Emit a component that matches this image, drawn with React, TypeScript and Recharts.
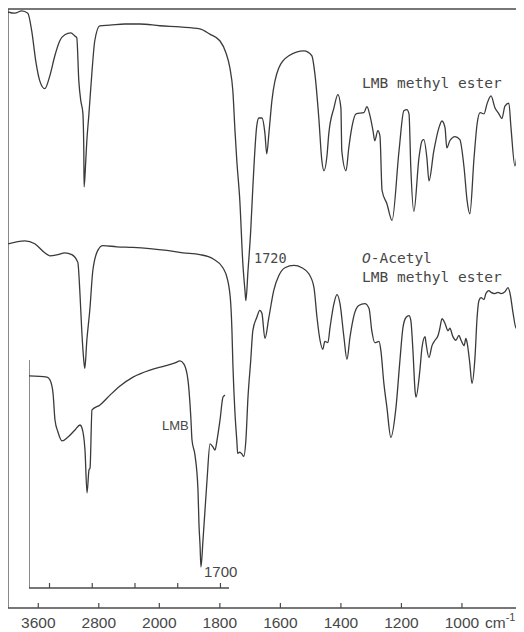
import React from 'react';
import { LineChart, Line, XAxis, YAxis, ReferenceLine } from 'recharts';

// ---- Main x axis ticks (cm-1) ----
const mainTickWavenumbers = [3600, 2800, 2000, 1800, 1600, 1400, 1200, 1000];
const insetTickWavenumbers = [3500, 3000, 2500, 2000, 1500];

// ---- Top spectrum: LMB methyl ester ----
const topWavenumbers = [
  4000, 3910, 3818, 3738, 3686, 3633, 3580, 3514, 3448, 3381,
  3315, 3249, 3170, 3117, 3091, 3064, 3038, 3011, 2998, 2994,
  2972, 2958, 2932, 2892, 2853, 2787, 2654, 2456, 2258, 1998,
  1932, 1866, 1833, 1800, 1780, 1767, 1757, 1750, 1744, 1734,
  1724, 1717, 1714, 1707, 1698, 1691, 1678, 1671, 1661, 1651,
  1645, 1638, 1628, 1605, 1572, 1522, 1496, 1486, 1473, 1463,
  1456, 1446, 1440, 1423, 1410, 1400, 1397, 1383, 1374, 1364,
  1350, 1324, 1314, 1304, 1294, 1288, 1278, 1271, 1264, 1248,
  1231, 1208, 1192, 1182, 1175, 1169, 1159, 1142, 1132, 1126,
  1116, 1109, 1093, 1076, 1066, 1056, 1050, 1040, 1023, 1007,
  993, 983, 974, 960, 950, 940, 927, 917, 904, 891,
  878, 868, 858, 845, 838, 825, 812, 802, 795,
];
const topValues = [
  99.5, 99.3, 99.7, 99.3, 96.3, 91.3, 88.0, 86.7, 88.8, 92.2,
  94.7, 95.7, 96.0, 95.5, 95.2, 88.0, 84.7, 82.7, 76.3, 70.3,
  74.7, 78.0, 82.2, 89.2, 94.7, 97.2, 97.3, 97.5, 97.5, 97.2,
  97.0, 96.7, 95.8, 94.7, 92.7, 90.2, 86.3, 79.7, 74.7, 68.0,
  57.5, 53.0, 51.3, 56.3, 63.0, 70.2, 80.5, 81.8, 81.8, 79.2,
  75.8, 79.2, 84.7, 90.2, 92.2, 93.0, 92.2, 89.2, 81.8, 74.7,
  73.0, 75.5, 79.2, 83.5, 85.7, 83.5, 76.3, 73.0, 76.8, 80.2,
  82.5, 82.7, 83.7, 82.2, 79.7, 78.0, 79.7, 78.8, 69.7, 67.5,
  64.7, 76.3, 83.0, 83.2, 82.5, 73.5, 66.2, 75.2, 78.0, 78.2,
  75.2, 71.3, 76.3, 80.2, 81.3, 80.2, 76.8, 78.0, 78.7, 78.2,
  73.5, 68.0, 65.8, 75.2, 80.8, 82.7, 82.5, 84.2, 85.5, 83.5,
  82.5, 81.7, 83.8, 84.3, 80.2, 73.8, 79.2, 85.2, 85.8,
];

// ---- Middle spectrum: O-Acetyl LMB methyl ester ----
const midWavenumbers = [
  4000, 3778, 3646, 3514, 3448, 3342, 3249, 3157, 3077, 3051,
  3025, 2998, 2985, 2958, 2919, 2879, 2813, 2747, 2562, 2350,
  2126, 1975, 1922, 1866, 1823, 1790, 1774, 1764, 1760, 1757,
  1750, 1744, 1741, 1734, 1727, 1721, 1714, 1707, 1698, 1691,
  1678, 1668, 1661, 1651, 1638, 1622, 1605, 1585, 1555, 1529,
  1506, 1489, 1479, 1469, 1460, 1453, 1443, 1436, 1423, 1413,
  1403, 1390, 1380, 1370, 1357, 1341, 1321, 1307, 1298, 1288,
  1274, 1268, 1258, 1248, 1235, 1218, 1205, 1195, 1185, 1175,
  1169, 1162, 1155, 1152, 1139, 1132, 1122, 1119, 1109, 1099,
  1089, 1079, 1073, 1066, 1056, 1046, 1040, 1030, 1020, 1010,
  1003, 993, 987, 983, 974, 967, 957, 950, 944, 937,
  927, 921, 911, 904, 891, 881, 871, 858, 848, 841,
  831, 821, 818, 812, 805, 795,
];
const midValues = [
  60.8, 61.3, 60.8, 59.3, 58.8, 59.0, 59.3, 59.0, 57.7, 53.0,
  46.3, 41.3, 40.0, 44.7, 49.7, 56.3, 59.7, 60.5, 60.3, 60.2,
  60.0, 59.7, 59.3, 59.0, 58.3, 56.8, 54.7, 50.8, 46.3, 40.8,
  32.5, 28.0, 25.8, 26.0, 25.7, 25.3, 28.0, 35.2, 41.3, 46.3,
  48.5, 49.7, 49.2, 45.0, 48.5, 53.0, 55.5, 56.8, 57.2, 56.8,
  55.8, 53.5, 48.5, 44.7, 43.2, 44.5, 44.3, 46.8, 50.8, 52.3,
  50.8, 45.2, 41.5, 45.2, 48.8, 50.5, 50.8, 50.0, 46.3, 44.3,
  44.5, 43.0, 37.5, 33.5, 28.5, 33.5, 41.3, 46.8, 48.5, 48.8,
  48.0, 43.0, 36.3, 35.2, 39.7, 43.5, 45.3, 44.3, 41.8, 43.8,
  44.7, 45.5, 46.7, 48.3, 47.5, 46.3, 46.7, 45.3, 44.7, 45.5,
  44.7, 43.8, 45.0, 44.3, 40.8, 37.5, 41.8, 48.5, 51.3, 51.8,
  51.5, 52.5, 53.0, 52.7, 52.5, 52.7, 52.5, 52.8, 53.5, 52.5,
  49.2, 46.7, 48.5, 52.5, 54.2, 55.0,
];

// ---- Inset spectrum: LMB ----
const insetWavenumbers = [
  3740, 3529, 3494, 3459, 3436, 3401, 3354, 3284, 3202, 3143,
  3120, 3085, 3061, 3038, 3026, 3003, 2909, 2792, 2675, 2523,
  2324, 2149, 2032, 1973, 1927, 1880, 1845, 1833, 1798, 1763,
  1751, 1739, 1728, 1704, 1657, 1622, 1587, 1564, 1540, 1505,
  1470, 1447,
];
const insetValues = [
  93.0, 92.5, 91.2, 85.5, 73.7, 68.4, 64.5, 66.2, 69.3, 71.5,
  70.2, 60.5, 41.7, 51.8, 52.6, 78.1, 80.3, 84.6, 88.6, 92.5,
  95.6, 97.4, 98.7, 99.6, 98.2, 91.2, 73.7, 64.9, 58.3, 43.0,
  27.6, 18.9, 9.2, 21.1, 47.4, 63.2, 61.8, 60.5, 64.9, 73.7,
  83.8, 84.6,
];

// Chart paper scale: above 2000 cm-1 is compressed 4x
const toAxis = (w: number) => (w > 2000 ? 2000 + (w - 2000) / 4 : w);
const fromAxis = (u: number) => (u > 2000 ? Math.round(2000 + (u - 2000) * 4) : Math.round(u));

const topData = topWavenumbers.map((w, i) => ({ u: toAxis(w), v: topValues[i] }));
const midData = midWavenumbers.map((w, i) => ({ u: toAxis(w), v: midValues[i] }));
const insetData = insetWavenumbers.map((w, i) => ({ w, v: insetValues[i] }));
const mainTicks = mainTickWavenumbers.map(toAxis);

const INK = '#3a3a3a';
const AXIS = '#4a4a4a';
const TEXT = '#474747';
const SANS = '"Liberation Sans", Arial, sans-serif';
const MONO = '"DejaVu Sans Mono", "Liberation Mono", monospace';

const MainTick = (props: any) => {
  const { x, y, payload } = props;
  const label = String(fromAxis(payload.value));
  return (
    <g>
      <line x1={x} x2={x} y1={y} y2={y - 5} stroke={AXIS} strokeWidth={1.2} />
      <text x={x} y={y + 20} textAnchor="middle" fill={TEXT} fontSize={15.5} fontFamily={SANS}>
        {label}
      </text>
      {label === '1000' && (
        <text x={x + 23} y={y + 20} fill={TEXT} fontSize={15.5} fontFamily={SANS}>
          cm
          <tspan dy={-7} fontSize={11}>-1</tspan>
        </text>
      )}
    </g>
  );
};

const InsetTick = (props: any) => {
  const { x, y } = props;
  return <line x1={x} x2={x} y1={y} y2={y - 5} stroke={AXIS} strokeWidth={1.2} />;
};

export default function App() {
  return (
    <div style={{ position: 'relative', width: 516, height: 624 }}>
      <LineChart width={516} height={624} margin={{ top: 1, right: 0, bottom: 0, left: 0 }}>
        <XAxis
          type="number"
          dataKey="u"
          domain={[795, 2500]}
          reversed
          allowDataOverflow
          ticks={mainTicks}
          interval={0}
          height={24}
          tickSize={0}
          tickMargin={0}
          tickLine={false}
          axisLine={{ stroke: AXIS, strokeWidth: 1.3 }}
          tick={(p: any) => <MainTick {...p} />}
        />
        <YAxis type="number" domain={[0, 100]} hide allowDataOverflow />
        <ReferenceLine y={100} stroke={AXIS} strokeWidth={1.3} />
        <ReferenceLine x={2500} stroke={AXIS} strokeWidth={1.3} />
        <Line data={topData} dataKey="v" type="monotoneX" stroke={INK} strokeWidth={1.3} dot={false} isAnimationActive={false} />
        <Line data={midData} dataKey="v" type="monotoneX" stroke={INK} strokeWidth={1.3} dot={false} isAnimationActive={false} />
      </LineChart>

      <div style={{ position: 'absolute', left: 21, top: 352 }}>
        <LineChart width={202} height={232} margin={{ top: 0, right: 2, bottom: 0, left: 0 }}>
          <XAxis
            type="number"
            dataKey="w"
            domain={[1400, 3740]}
            reversed
            allowDataOverflow
            ticks={insetTickWavenumbers}
            interval={0}
            height={4}
            tickSize={0}
            tickMargin={0}
            tickLine={false}
            axisLine={{ stroke: AXIS, strokeWidth: 1.3 }}
            tick={(p: any) => <InsetTick {...p} />}
          />
          <YAxis type="number" domain={[0, 100]} hide allowDataOverflow />
          <ReferenceLine x={3740} stroke={AXIS} strokeWidth={1.3} />
          <Line data={insetData} dataKey="v" type="monotoneX" stroke={INK} strokeWidth={1.3} dot={false} isAnimationActive={false} />
        </LineChart>
      </div>

      <svg width={516} height={624} style={{ position: 'absolute', left: 0, top: 0, pointerEvents: 'none' }}>
        <text x={354} y={80} fill={TEXT} fontSize={14.5} fontFamily={MONO}>LMB methyl ester</text>
        <text x={354} y={255} fill={TEXT} fontSize={14.5} fontFamily={MONO}>
          <tspan fontStyle="italic">O</tspan>-Acetyl
        </text>
        <text x={354} y={274} fill={TEXT} fontSize={14.5} fontFamily={MONO}>LMB methyl ester</text>
        <text x={246} y={255} fill={TEXT} fontSize={13.5} fontFamily={MONO}>1720</text>
        <text x={154} y={422} fill={TEXT} fontSize={13} fontFamily={SANS}>LMB</text>
        <text x={196} y={569} fill={TEXT} fontSize={15} fontFamily={SANS}>1700</text>
      </svg>
    </div>
  );
}
